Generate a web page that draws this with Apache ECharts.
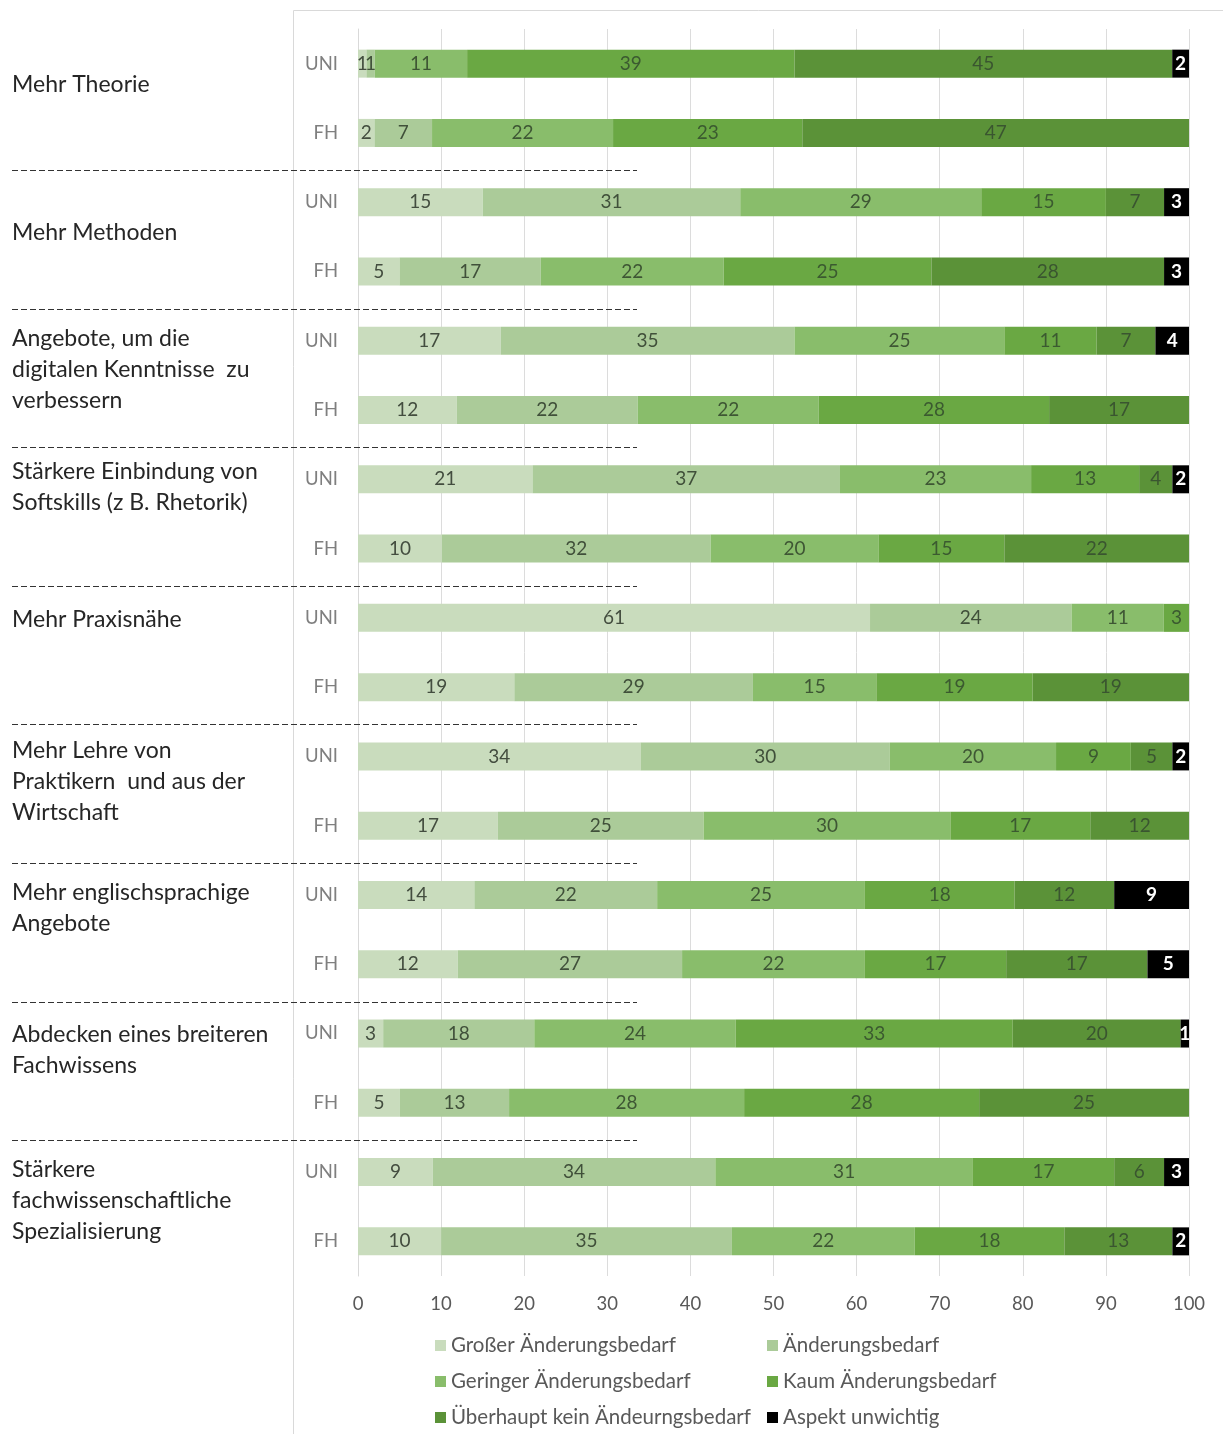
<!DOCTYPE html>
<html><head><meta charset="utf-8">
<script src="https://cdn.jsdelivr.net/npm/echarts@6/dist/echarts.min.js"></script>
<style>html,body{margin:0;padding:0;background:#fff}#c{width:1223px;height:1434px}</style>
</head><body><div id="c"></div>
<script>
// ---- data ----
const groups = [
  "Mehr Theorie",
  "Mehr Methoden",
  "Angebote, um die\ndigitalen Kenntnisse  zu\nverbessern",
  "Stärkere Einbindung von\nSoftskills (z B. Rhetorik)",
  "Mehr Praxisnähe",
  "Mehr Lehre von\nPraktikern  und aus der\nWirtschaft",
  "Mehr englischsprachige\nAngebote",
  "Abdecken eines breiteren\nFachwissens",
  "Stärkere\nfachwissenschaftliche\nSpezialisierung"
];
const rowTypes = ["UNI", "FH"];
const seriesNames = ["Großer Änderungsbedarf", "Änderungsbedarf", "Geringer Änderungsbedarf",
  "Kaum Änderungsbedarf", "Überhaupt kein Ändeurngsbedarf", "Aspekt unwichtig"];
// rows: group1 UNI, group1 FH, group2 UNI, ...
const grossVals  = [1, 2, 15, 5, 17, 12, 21, 10, 61, 19, 34, 17, 14, 12, 3, 5, 9, 10];
const aendVals   = [1, 7, 31, 17, 35, 22, 37, 32, 24, 29, 30, 25, 22, 27, 18, 13, 34, 35];
const geringVals = [11, 22, 29, 22, 25, 22, 23, 20, 11, 15, 20, 30, 25, 22, 24, 28, 31, 22];
const kaumVals   = [39, 23, 15, 25, 11, 28, 13, 15, 3, 19, 9, 17, 18, 17, 33, 28, 17, 18];
const ueberVals  = [45, 47, 7, 28, 7, 17, 4, 22, 0, 19, 5, 12, 12, 17, 20, 25, 6, 13];
const unwVals    = [2, 0, 3, 3, 4, 0, 2, 0, 0, 0, 2, 0, 9, 5, 1, 0, 3, 2];
const xTicks = [0, 10, 20, 30, 40, 50, 60, 70, 80, 90, 100];

// ---- styles / layout ----
const colors = ["#c9dcbd", "#abcb99", "#89bd6b", "#6aa843", "#5b9238", "#000000"];
const labelColors = ["#434d3f", "#40503a", "#3e5634", "#3b5a30", "#3a5530", "#ffffff"];
const FONT = "Lato, 'Noto Sans', sans-serif";
const groupLabelTop = [69, 217, 323, 456, 604, 735, 877, 1019, 1154];
const sepY0 = 170, sepStep = 138.6;

const allVals = [grossVals, aendVals, geringVals, kaumVals, ueberVals, unwVals];
const categories = [];
groups.forEach(() => rowTypes.forEach(t => categories.push(t)));
const rowSums = categories.map((_, i) => allVals.reduce((s, a) => s + a[i], 0));

const series = allVals.map((vals, k) => ({
  name: seriesNames[k],
  type: 'bar',
  stack: 'total',
  barWidth: 28,
  itemStyle: { color: colors[k] },
  label: {
    show: true, position: 'inside',
    fontFamily: FONT, fontSize: 19,
    color: labelColors[k], fontWeight: k === 5 ? 'bold' : 'normal',
    formatter: p => (vals[p.dataIndex] ? String(vals[p.dataIndex]) : '')
  },
  emphasis: { disabled: true },
  data: vals.map((v, i) => v / rowSums[i] * 100)
}));

const graphic = [];
graphic.push({ type: 'polyline', silent: true, z: 0,
  shape: { points: [[293.5, 1434], [293.5, 10.5], [1223, 10.5]] },
  style: { stroke: '#d9d9d9', lineWidth: 1, fill: null } });
groups.forEach((g, i) => {
  graphic.push({ type: 'text', left: 12, top: groupLabelTop[i], silent: true,
    style: { text: g, font: '23px ' + FONT, fill: '#262626', lineHeight: 31 } });
  if (i > 0) {
    const y = Math.round(sepY0 + (i - 1) * sepStep) + 0.5;
    graphic.push({ type: 'line', silent: true, z: 10,
      shape: { x1: 12, y1: y, x2: 637, y2: y },
      style: { stroke: '#333333', lineWidth: 1, lineDash: [6, 3] } });
  }
});

const legendCommon = {
  orient: 'vertical', itemWidth: 11, itemHeight: 11, itemGap: 15, padding: 0,
  icon: 'rect', selectedMode: false,
  textStyle: { fontFamily: FONT, fontSize: 20.5, color: '#595959' }
};

const chart = echarts.init(document.getElementById('c'));
chart.setOption({
  animation: false,
  textStyle: { fontFamily: FONT },
  grid: { left: 358, right: 34, top: 29, bottom: 158, containLabel: false },
  xAxis: {
    type: 'value', min: 0, max: 100, interval: 10,
    axisLine: { show: false }, axisTick: { show: false },
    splitLine: { lineStyle: { color: '#dcdcdc', width: 1 } },
    axisLabel: { color: '#595959', fontSize: 18.5, fontFamily: FONT, margin: 19,
      formatter: v => (xTicks.includes(v) ? String(v) : '') }
  },
  yAxis: {
    type: 'category', data: categories, inverse: true,
    axisLine: { show: true, lineStyle: { color: '#d9d9d9' } },
    axisTick: { show: false },
    axisLabel: { color: '#7f7f7f', fontSize: 18.5, fontFamily: FONT, margin: 20 }
  },
  legend: [
    Object.assign({}, legendCommon, { left: 435, top: 1335,
      data: [seriesNames[0], seriesNames[2], seriesNames[4]] }),
    Object.assign({}, legendCommon, { left: 767, top: 1335,
      data: [seriesNames[1], seriesNames[3], seriesNames[5]] })
  ],
  graphic: graphic,
  series: series
});
</script></body></html>
